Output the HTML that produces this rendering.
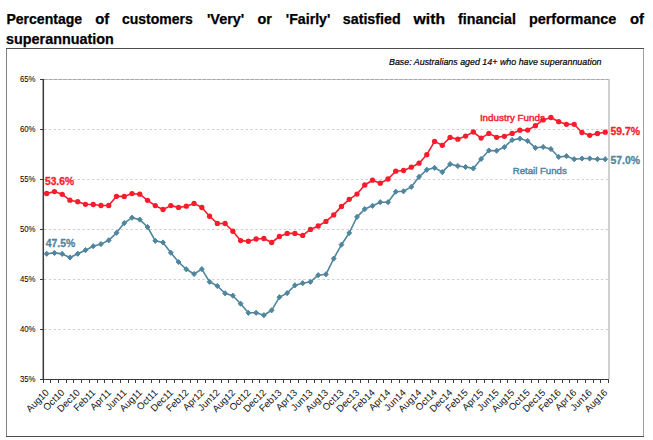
<!DOCTYPE html><html><head><meta charset="utf-8"><style>html,body{margin:0;padding:0;background:#fff;}svg{display:block;}text{font-family:"Liberation Sans",sans-serif;}</style></head><body>
<svg width="653" height="440" viewBox="0 0 653 440">
<rect width="653" height="440" fill="#fff"/>
<g font-weight="bold" font-size="14.4" fill="#000" stroke="#000" stroke-width="0.25">
<text x="6.40" y="24" textLength="75.8" lengthAdjust="spacingAndGlyphs">Percentage</text>
<text x="95.30" y="24" textLength="14" lengthAdjust="spacingAndGlyphs">of</text>
<text x="122.00" y="24" textLength="70.8" lengthAdjust="spacingAndGlyphs">customers</text>
<text x="206.90" y="24" textLength="37.4" lengthAdjust="spacingAndGlyphs">'Very'</text>
<text x="257.40" y="24" textLength="14.4" lengthAdjust="spacingAndGlyphs">or</text>
<text x="285.80" y="24" textLength="44.599999999999994" lengthAdjust="spacingAndGlyphs">'Fairly'</text>
<text x="342.80" y="24" textLength="57.8" lengthAdjust="spacingAndGlyphs">satisfied</text>
<text x="413.60" y="24" textLength="31.5" lengthAdjust="spacingAndGlyphs">with</text>
<text x="458.10" y="24" textLength="57.8" lengthAdjust="spacingAndGlyphs">financial</text>
<text x="528.90" y="24" textLength="87.39999999999999" lengthAdjust="spacingAndGlyphs">performance</text>
<text x="629.90" y="24" textLength="14" lengthAdjust="spacingAndGlyphs">of</text>
<text x="6" y="43.5" textLength="107.8" lengthAdjust="spacingAndGlyphs">superannuation</text>
</g>
<line x1="6.5" y1="48" x2="6.5" y2="437" stroke="#808080"/>
<line x1="643.5" y1="48" x2="643.5" y2="437" stroke="#a0a0a0"/>
<line x1="6" y1="48.5" x2="644" y2="48.5" stroke="#4d4d4d"/>
<line x1="6" y1="436.5" x2="644" y2="436.5" stroke="#4d4d4d"/>
<text x="389" y="64.5" font-size="9.5" font-style="italic" fill="#000" stroke="#000" stroke-width="0.2" textLength="212.5" lengthAdjust="spacingAndGlyphs">Base: Australians aged 14+ who have superannuation</text>
<line x1="44" y1="129.5" x2="608" y2="129.5" stroke="#cfcfcf" stroke-width="1" stroke-dasharray="2.4 2.4"/>
<line x1="44" y1="179.5" x2="608" y2="179.5" stroke="#cfcfcf" stroke-width="1" stroke-dasharray="2.4 2.4"/>
<line x1="44" y1="229.5" x2="608" y2="229.5" stroke="#cfcfcf" stroke-width="1" stroke-dasharray="2.4 2.4"/>
<line x1="44" y1="279.5" x2="608" y2="279.5" stroke="#cfcfcf" stroke-width="1" stroke-dasharray="2.4 2.4"/>
<line x1="44" y1="329.5" x2="608" y2="329.5" stroke="#cfcfcf" stroke-width="1" stroke-dasharray="2.4 2.4"/>
<line x1="43" y1="79.5" x2="609" y2="79.5" stroke="#d4d4d4" stroke-width="1"/>
<line x1="44" y1="79.5" x2="609" y2="79.5" stroke="#a8a8a8" stroke-width="1" stroke-dasharray="3.6 1.2"/>
<line x1="609" y1="79" x2="609" y2="379" stroke="#bdbdbd" stroke-width="1.4"/>
<g font-size="8.8" fill="#000" stroke="#000" stroke-width="0.05" text-anchor="end">
<text x="35.5" y="82.1" textLength="15.6" lengthAdjust="spacingAndGlyphs">65%</text>
<text x="35.5" y="132.1" textLength="15.6" lengthAdjust="spacingAndGlyphs">60%</text>
<text x="35.5" y="182.1" textLength="15.6" lengthAdjust="spacingAndGlyphs">55%</text>
<text x="35.5" y="232.1" textLength="15.6" lengthAdjust="spacingAndGlyphs">50%</text>
<text x="35.5" y="282.1" textLength="15.6" lengthAdjust="spacingAndGlyphs">45%</text>
<text x="35.5" y="332.1" textLength="15.6" lengthAdjust="spacingAndGlyphs">40%</text>
<text x="35.5" y="382.1" textLength="15.6" lengthAdjust="spacingAndGlyphs">35%</text>
</g>
<g stroke="#3a3a3a" stroke-width="1">
<line x1="40" y1="79.5" x2="43" y2="79.5"/>
<line x1="40" y1="129.5" x2="43" y2="129.5"/>
<line x1="40" y1="179.5" x2="43" y2="179.5"/>
<line x1="40" y1="229.5" x2="43" y2="229.5"/>
<line x1="40" y1="279.5" x2="43" y2="279.5"/>
<line x1="40" y1="329.5" x2="43" y2="329.5"/>
<line x1="40" y1="379.5" x2="43" y2="379.5"/>
<line x1="43.50" y1="379" x2="43.50" y2="383"/>
<line x1="50.50" y1="379" x2="50.50" y2="383"/>
<line x1="58.50" y1="379" x2="58.50" y2="383"/>
<line x1="66.50" y1="379" x2="66.50" y2="383"/>
<line x1="73.50" y1="379" x2="73.50" y2="383"/>
<line x1="81.50" y1="379" x2="81.50" y2="383"/>
<line x1="89.50" y1="379" x2="89.50" y2="383"/>
<line x1="97.50" y1="379" x2="97.50" y2="383"/>
<line x1="104.50" y1="379" x2="104.50" y2="383"/>
<line x1="112.50" y1="379" x2="112.50" y2="383"/>
<line x1="120.50" y1="379" x2="120.50" y2="383"/>
<line x1="128.50" y1="379" x2="128.50" y2="383"/>
<line x1="135.50" y1="379" x2="135.50" y2="383"/>
<line x1="143.50" y1="379" x2="143.50" y2="383"/>
<line x1="151.50" y1="379" x2="151.50" y2="383"/>
<line x1="159.50" y1="379" x2="159.50" y2="383"/>
<line x1="166.50" y1="379" x2="166.50" y2="383"/>
<line x1="174.50" y1="379" x2="174.50" y2="383"/>
<line x1="182.50" y1="379" x2="182.50" y2="383"/>
<line x1="190.50" y1="379" x2="190.50" y2="383"/>
<line x1="197.50" y1="379" x2="197.50" y2="383"/>
<line x1="205.50" y1="379" x2="205.50" y2="383"/>
<line x1="213.50" y1="379" x2="213.50" y2="383"/>
<line x1="221.50" y1="379" x2="221.50" y2="383"/>
<line x1="228.50" y1="379" x2="228.50" y2="383"/>
<line x1="236.50" y1="379" x2="236.50" y2="383"/>
<line x1="244.50" y1="379" x2="244.50" y2="383"/>
<line x1="252.50" y1="379" x2="252.50" y2="383"/>
<line x1="259.50" y1="379" x2="259.50" y2="383"/>
<line x1="267.50" y1="379" x2="267.50" y2="383"/>
<line x1="275.50" y1="379" x2="275.50" y2="383"/>
<line x1="283.50" y1="379" x2="283.50" y2="383"/>
<line x1="290.50" y1="379" x2="290.50" y2="383"/>
<line x1="298.50" y1="379" x2="298.50" y2="383"/>
<line x1="306.50" y1="379" x2="306.50" y2="383"/>
<line x1="314.50" y1="379" x2="314.50" y2="383"/>
<line x1="321.50" y1="379" x2="321.50" y2="383"/>
<line x1="329.50" y1="379" x2="329.50" y2="383"/>
<line x1="337.50" y1="379" x2="337.50" y2="383"/>
<line x1="345.50" y1="379" x2="345.50" y2="383"/>
<line x1="352.50" y1="379" x2="352.50" y2="383"/>
<line x1="360.50" y1="379" x2="360.50" y2="383"/>
<line x1="368.50" y1="379" x2="368.50" y2="383"/>
<line x1="376.50" y1="379" x2="376.50" y2="383"/>
<line x1="383.50" y1="379" x2="383.50" y2="383"/>
<line x1="391.50" y1="379" x2="391.50" y2="383"/>
<line x1="399.50" y1="379" x2="399.50" y2="383"/>
<line x1="407.50" y1="379" x2="407.50" y2="383"/>
<line x1="414.50" y1="379" x2="414.50" y2="383"/>
<line x1="422.50" y1="379" x2="422.50" y2="383"/>
<line x1="430.50" y1="379" x2="430.50" y2="383"/>
<line x1="438.50" y1="379" x2="438.50" y2="383"/>
<line x1="445.50" y1="379" x2="445.50" y2="383"/>
<line x1="453.50" y1="379" x2="453.50" y2="383"/>
<line x1="461.50" y1="379" x2="461.50" y2="383"/>
<line x1="469.50" y1="379" x2="469.50" y2="383"/>
<line x1="476.50" y1="379" x2="476.50" y2="383"/>
<line x1="484.50" y1="379" x2="484.50" y2="383"/>
<line x1="492.50" y1="379" x2="492.50" y2="383"/>
<line x1="500.50" y1="379" x2="500.50" y2="383"/>
<line x1="507.50" y1="379" x2="507.50" y2="383"/>
<line x1="515.50" y1="379" x2="515.50" y2="383"/>
<line x1="523.50" y1="379" x2="523.50" y2="383"/>
<line x1="531.50" y1="379" x2="531.50" y2="383"/>
<line x1="538.50" y1="379" x2="538.50" y2="383"/>
<line x1="546.50" y1="379" x2="546.50" y2="383"/>
<line x1="554.50" y1="379" x2="554.50" y2="383"/>
<line x1="562.50" y1="379" x2="562.50" y2="383"/>
<line x1="569.50" y1="379" x2="569.50" y2="383"/>
<line x1="577.50" y1="379" x2="577.50" y2="383"/>
<line x1="585.50" y1="379" x2="585.50" y2="383"/>
<line x1="593.50" y1="379" x2="593.50" y2="383"/>
<line x1="600.50" y1="379" x2="600.50" y2="383"/>
<line x1="608.50" y1="379" x2="608.50" y2="383"/>
</g>
<line x1="43.3" y1="79" x2="43.3" y2="380" stroke="#3a3a3a" stroke-width="1.5"/>
<line x1="42.5" y1="379.5" x2="609" y2="379.5" stroke="#3a3a3a" stroke-width="1.2"/>
<g font-size="9.6" fill="#111" text-anchor="end">
<text transform="translate(47.48,391) rotate(-45)" x="0" y="3">Aug10</text>
<text transform="translate(62.99,391) rotate(-45)" x="0" y="3">Oct10</text>
<text transform="translate(78.51,391) rotate(-45)" x="0" y="3">Dec10</text>
<text transform="translate(94.02,391) rotate(-45)" x="0" y="3">Feb11</text>
<text transform="translate(109.54,391) rotate(-45)" x="0" y="3">Apr11</text>
<text transform="translate(125.05,391) rotate(-45)" x="0" y="3">Jun11</text>
<text transform="translate(140.57,391) rotate(-45)" x="0" y="3">Aug11</text>
<text transform="translate(156.08,391) rotate(-45)" x="0" y="3">Oct11</text>
<text transform="translate(171.60,391) rotate(-45)" x="0" y="3">Dec11</text>
<text transform="translate(187.11,391) rotate(-45)" x="0" y="3">Feb12</text>
<text transform="translate(202.63,391) rotate(-45)" x="0" y="3">Apr12</text>
<text transform="translate(218.14,391) rotate(-45)" x="0" y="3">Jun12</text>
<text transform="translate(233.66,391) rotate(-45)" x="0" y="3">Aug12</text>
<text transform="translate(249.17,391) rotate(-45)" x="0" y="3">Oct12</text>
<text transform="translate(264.69,391) rotate(-45)" x="0" y="3">Dec12</text>
<text transform="translate(280.20,391) rotate(-45)" x="0" y="3">Feb13</text>
<text transform="translate(295.72,391) rotate(-45)" x="0" y="3">Apr13</text>
<text transform="translate(311.23,391) rotate(-45)" x="0" y="3">Jun13</text>
<text transform="translate(326.75,391) rotate(-45)" x="0" y="3">Aug13</text>
<text transform="translate(342.27,391) rotate(-45)" x="0" y="3">Oct13</text>
<text transform="translate(357.78,391) rotate(-45)" x="0" y="3">Dec13</text>
<text transform="translate(373.30,391) rotate(-45)" x="0" y="3">Feb14</text>
<text transform="translate(388.81,391) rotate(-45)" x="0" y="3">Apr14</text>
<text transform="translate(404.33,391) rotate(-45)" x="0" y="3">Jun14</text>
<text transform="translate(419.84,391) rotate(-45)" x="0" y="3">Aug14</text>
<text transform="translate(435.36,391) rotate(-45)" x="0" y="3">Oct14</text>
<text transform="translate(450.87,391) rotate(-45)" x="0" y="3">Dec14</text>
<text transform="translate(466.39,391) rotate(-45)" x="0" y="3">Feb15</text>
<text transform="translate(481.90,391) rotate(-45)" x="0" y="3">Apr15</text>
<text transform="translate(497.42,391) rotate(-45)" x="0" y="3">Jun15</text>
<text transform="translate(512.93,391) rotate(-45)" x="0" y="3">Aug15</text>
<text transform="translate(528.45,391) rotate(-45)" x="0" y="3">Oct15</text>
<text transform="translate(543.96,391) rotate(-45)" x="0" y="3">Dec15</text>
<text transform="translate(559.48,391) rotate(-45)" x="0" y="3">Feb16</text>
<text transform="translate(574.99,391) rotate(-45)" x="0" y="3">Apr16</text>
<text transform="translate(590.51,391) rotate(-45)" x="0" y="3">Jun16</text>
<text transform="translate(606.02,391) rotate(-45)" x="0" y="3">Aug16</text>
</g>
<path d="M46.68,193.50 L54.44,191.60 L62.19,194.30 L69.95,200.20 L77.71,201.70 L85.47,204.30 L93.22,204.50 L100.98,205.50 L108.74,205.50 L116.50,196.30 L124.25,196.40 L132.01,193.60 L139.77,194.20 L147.53,200.30 L155.28,205.60 L163.04,209.50 L170.80,205.60 L178.56,207.40 L186.31,206.20 L194.07,203.40 L201.83,207.50 L209.59,216.25 L217.34,223.40 L225.10,223.50 L232.86,231.25 L240.62,240.60 L248.37,241.25 L256.13,239.00 L263.89,238.50 L271.65,242.50 L279.40,236.50 L287.16,233.40 L294.92,233.40 L302.68,235.40 L310.43,229.40 L318.19,226.00 L325.95,221.40 L333.71,214.90 L341.47,206.40 L349.22,199.30 L356.98,194.10 L364.74,185.00 L372.50,180.20 L380.25,183.20 L388.01,179.00 L395.77,171.20 L403.53,170.50 L411.28,167.20 L419.04,163.20 L426.80,154.70 L434.56,141.40 L442.31,145.30 L450.07,137.40 L457.83,139.20 L465.59,136.10 L473.34,132.00 L481.10,138.10 L488.86,133.40 L496.62,137.30 L504.37,136.30 L512.13,133.40 L519.89,130.20 L527.65,130.10 L535.40,125.70 L543.16,119.90 L550.92,117.50 L558.68,121.70 L566.43,124.30 L574.19,124.30 L581.95,132.50 L589.71,135.30 L597.46,133.50 L605.22,132.20" fill="none" stroke="#f71c2c" stroke-width="1.6" stroke-linejoin="round"/>
<path d="M46.68,253.75 L54.44,252.90 L62.19,253.90 L69.95,257.50 L77.71,253.75 L85.47,250.20 L93.22,246.20 L100.98,244.10 L108.74,240.30 L116.50,232.80 L124.25,223.10 L132.01,217.70 L139.77,219.60 L147.53,227.00 L155.28,240.80 L163.04,242.50 L170.80,252.70 L178.56,262.00 L186.31,269.30 L194.07,274.00 L201.83,269.10 L209.59,281.80 L217.34,286.00 L225.10,293.30 L232.86,295.70 L240.62,303.70 L248.37,312.80 L256.13,312.80 L263.89,315.20 L271.65,310.30 L279.40,297.20 L287.16,293.10 L294.92,285.30 L302.68,283.20 L310.43,281.80 L318.19,275.20 L325.95,274.30 L333.71,258.60 L341.47,244.70 L349.22,233.00 L356.98,216.90 L364.74,209.10 L372.50,205.80 L380.25,202.20 L388.01,202.20 L395.77,191.70 L403.53,191.30 L411.28,186.90 L419.04,176.80 L426.80,169.80 L434.56,167.80 L442.31,172.10 L450.07,164.10 L457.83,166.00 L465.59,167.00 L473.34,168.40 L481.10,159.00 L488.86,150.50 L496.62,150.70 L504.37,147.10 L512.13,140.00 L519.89,138.60 L527.65,140.90 L535.40,147.80 L543.16,147.00 L550.92,149.00 L558.68,157.00 L566.43,156.10 L574.19,159.20 L581.95,158.50 L589.71,158.50 L597.46,159.20 L605.22,159.20" fill="none" stroke="#4f869e" stroke-width="1.6" stroke-linejoin="round"/>
<g fill="#f71c2c">
<circle cx="46.68" cy="193.50" r="2.65"/>
<circle cx="54.44" cy="191.60" r="2.65"/>
<circle cx="62.19" cy="194.30" r="2.65"/>
<circle cx="69.95" cy="200.20" r="2.65"/>
<circle cx="77.71" cy="201.70" r="2.65"/>
<circle cx="85.47" cy="204.30" r="2.65"/>
<circle cx="93.22" cy="204.50" r="2.65"/>
<circle cx="100.98" cy="205.50" r="2.65"/>
<circle cx="108.74" cy="205.50" r="2.65"/>
<circle cx="116.50" cy="196.30" r="2.65"/>
<circle cx="124.25" cy="196.40" r="2.65"/>
<circle cx="132.01" cy="193.60" r="2.65"/>
<circle cx="139.77" cy="194.20" r="2.65"/>
<circle cx="147.53" cy="200.30" r="2.65"/>
<circle cx="155.28" cy="205.60" r="2.65"/>
<circle cx="163.04" cy="209.50" r="2.65"/>
<circle cx="170.80" cy="205.60" r="2.65"/>
<circle cx="178.56" cy="207.40" r="2.65"/>
<circle cx="186.31" cy="206.20" r="2.65"/>
<circle cx="194.07" cy="203.40" r="2.65"/>
<circle cx="201.83" cy="207.50" r="2.65"/>
<circle cx="209.59" cy="216.25" r="2.65"/>
<circle cx="217.34" cy="223.40" r="2.65"/>
<circle cx="225.10" cy="223.50" r="2.65"/>
<circle cx="232.86" cy="231.25" r="2.65"/>
<circle cx="240.62" cy="240.60" r="2.65"/>
<circle cx="248.37" cy="241.25" r="2.65"/>
<circle cx="256.13" cy="239.00" r="2.65"/>
<circle cx="263.89" cy="238.50" r="2.65"/>
<circle cx="271.65" cy="242.50" r="2.65"/>
<circle cx="279.40" cy="236.50" r="2.65"/>
<circle cx="287.16" cy="233.40" r="2.65"/>
<circle cx="294.92" cy="233.40" r="2.65"/>
<circle cx="302.68" cy="235.40" r="2.65"/>
<circle cx="310.43" cy="229.40" r="2.65"/>
<circle cx="318.19" cy="226.00" r="2.65"/>
<circle cx="325.95" cy="221.40" r="2.65"/>
<circle cx="333.71" cy="214.90" r="2.65"/>
<circle cx="341.47" cy="206.40" r="2.65"/>
<circle cx="349.22" cy="199.30" r="2.65"/>
<circle cx="356.98" cy="194.10" r="2.65"/>
<circle cx="364.74" cy="185.00" r="2.65"/>
<circle cx="372.50" cy="180.20" r="2.65"/>
<circle cx="380.25" cy="183.20" r="2.65"/>
<circle cx="388.01" cy="179.00" r="2.65"/>
<circle cx="395.77" cy="171.20" r="2.65"/>
<circle cx="403.53" cy="170.50" r="2.65"/>
<circle cx="411.28" cy="167.20" r="2.65"/>
<circle cx="419.04" cy="163.20" r="2.65"/>
<circle cx="426.80" cy="154.70" r="2.65"/>
<circle cx="434.56" cy="141.40" r="2.65"/>
<circle cx="442.31" cy="145.30" r="2.65"/>
<circle cx="450.07" cy="137.40" r="2.65"/>
<circle cx="457.83" cy="139.20" r="2.65"/>
<circle cx="465.59" cy="136.10" r="2.65"/>
<circle cx="473.34" cy="132.00" r="2.65"/>
<circle cx="481.10" cy="138.10" r="2.65"/>
<circle cx="488.86" cy="133.40" r="2.65"/>
<circle cx="496.62" cy="137.30" r="2.65"/>
<circle cx="504.37" cy="136.30" r="2.65"/>
<circle cx="512.13" cy="133.40" r="2.65"/>
<circle cx="519.89" cy="130.20" r="2.65"/>
<circle cx="527.65" cy="130.10" r="2.65"/>
<circle cx="535.40" cy="125.70" r="2.65"/>
<circle cx="543.16" cy="119.90" r="2.65"/>
<circle cx="550.92" cy="117.50" r="2.65"/>
<circle cx="558.68" cy="121.70" r="2.65"/>
<circle cx="566.43" cy="124.30" r="2.65"/>
<circle cx="574.19" cy="124.30" r="2.65"/>
<circle cx="581.95" cy="132.50" r="2.65"/>
<circle cx="589.71" cy="135.30" r="2.65"/>
<circle cx="597.46" cy="133.50" r="2.65"/>
<circle cx="605.22" cy="132.20" r="2.65"/>
</g>
<g fill="#4f869e" stroke="#4f869e" stroke-width="1" stroke-linejoin="miter">
<path d="M46.68,251.15 L49.08,253.75 L46.68,256.35 L44.28,253.75Z"/>
<path d="M54.44,250.30 L56.84,252.90 L54.44,255.50 L52.04,252.90Z"/>
<path d="M62.19,251.30 L64.59,253.90 L62.19,256.50 L59.79,253.90Z"/>
<path d="M69.95,254.90 L72.35,257.50 L69.95,260.10 L67.55,257.50Z"/>
<path d="M77.71,251.15 L80.11,253.75 L77.71,256.35 L75.31,253.75Z"/>
<path d="M85.47,247.60 L87.87,250.20 L85.47,252.80 L83.07,250.20Z"/>
<path d="M93.22,243.60 L95.62,246.20 L93.22,248.80 L90.82,246.20Z"/>
<path d="M100.98,241.50 L103.38,244.10 L100.98,246.70 L98.58,244.10Z"/>
<path d="M108.74,237.70 L111.14,240.30 L108.74,242.90 L106.34,240.30Z"/>
<path d="M116.50,230.20 L118.90,232.80 L116.50,235.40 L114.10,232.80Z"/>
<path d="M124.25,220.50 L126.65,223.10 L124.25,225.70 L121.85,223.10Z"/>
<path d="M132.01,215.10 L134.41,217.70 L132.01,220.30 L129.61,217.70Z"/>
<path d="M139.77,217.00 L142.17,219.60 L139.77,222.20 L137.37,219.60Z"/>
<path d="M147.53,224.40 L149.93,227.00 L147.53,229.60 L145.13,227.00Z"/>
<path d="M155.28,238.20 L157.68,240.80 L155.28,243.40 L152.88,240.80Z"/>
<path d="M163.04,239.90 L165.44,242.50 L163.04,245.10 L160.64,242.50Z"/>
<path d="M170.80,250.10 L173.20,252.70 L170.80,255.30 L168.40,252.70Z"/>
<path d="M178.56,259.40 L180.96,262.00 L178.56,264.60 L176.16,262.00Z"/>
<path d="M186.31,266.70 L188.71,269.30 L186.31,271.90 L183.91,269.30Z"/>
<path d="M194.07,271.40 L196.47,274.00 L194.07,276.60 L191.67,274.00Z"/>
<path d="M201.83,266.50 L204.23,269.10 L201.83,271.70 L199.43,269.10Z"/>
<path d="M209.59,279.20 L211.99,281.80 L209.59,284.40 L207.19,281.80Z"/>
<path d="M217.34,283.40 L219.74,286.00 L217.34,288.60 L214.94,286.00Z"/>
<path d="M225.10,290.70 L227.50,293.30 L225.10,295.90 L222.70,293.30Z"/>
<path d="M232.86,293.10 L235.26,295.70 L232.86,298.30 L230.46,295.70Z"/>
<path d="M240.62,301.10 L243.02,303.70 L240.62,306.30 L238.22,303.70Z"/>
<path d="M248.37,310.20 L250.77,312.80 L248.37,315.40 L245.97,312.80Z"/>
<path d="M256.13,310.20 L258.53,312.80 L256.13,315.40 L253.73,312.80Z"/>
<path d="M263.89,312.60 L266.29,315.20 L263.89,317.80 L261.49,315.20Z"/>
<path d="M271.65,307.70 L274.05,310.30 L271.65,312.90 L269.25,310.30Z"/>
<path d="M279.40,294.60 L281.80,297.20 L279.40,299.80 L277.00,297.20Z"/>
<path d="M287.16,290.50 L289.56,293.10 L287.16,295.70 L284.76,293.10Z"/>
<path d="M294.92,282.70 L297.32,285.30 L294.92,287.90 L292.52,285.30Z"/>
<path d="M302.68,280.60 L305.08,283.20 L302.68,285.80 L300.28,283.20Z"/>
<path d="M310.43,279.20 L312.83,281.80 L310.43,284.40 L308.03,281.80Z"/>
<path d="M318.19,272.60 L320.59,275.20 L318.19,277.80 L315.79,275.20Z"/>
<path d="M325.95,271.70 L328.35,274.30 L325.95,276.90 L323.55,274.30Z"/>
<path d="M333.71,256.00 L336.11,258.60 L333.71,261.20 L331.31,258.60Z"/>
<path d="M341.47,242.10 L343.87,244.70 L341.47,247.30 L339.07,244.70Z"/>
<path d="M349.22,230.40 L351.62,233.00 L349.22,235.60 L346.82,233.00Z"/>
<path d="M356.98,214.30 L359.38,216.90 L356.98,219.50 L354.58,216.90Z"/>
<path d="M364.74,206.50 L367.14,209.10 L364.74,211.70 L362.34,209.10Z"/>
<path d="M372.50,203.20 L374.90,205.80 L372.50,208.40 L370.10,205.80Z"/>
<path d="M380.25,199.60 L382.65,202.20 L380.25,204.80 L377.85,202.20Z"/>
<path d="M388.01,199.60 L390.41,202.20 L388.01,204.80 L385.61,202.20Z"/>
<path d="M395.77,189.10 L398.17,191.70 L395.77,194.30 L393.37,191.70Z"/>
<path d="M403.53,188.70 L405.93,191.30 L403.53,193.90 L401.13,191.30Z"/>
<path d="M411.28,184.30 L413.68,186.90 L411.28,189.50 L408.88,186.90Z"/>
<path d="M419.04,174.20 L421.44,176.80 L419.04,179.40 L416.64,176.80Z"/>
<path d="M426.80,167.20 L429.20,169.80 L426.80,172.40 L424.40,169.80Z"/>
<path d="M434.56,165.20 L436.96,167.80 L434.56,170.40 L432.16,167.80Z"/>
<path d="M442.31,169.50 L444.71,172.10 L442.31,174.70 L439.91,172.10Z"/>
<path d="M450.07,161.50 L452.47,164.10 L450.07,166.70 L447.67,164.10Z"/>
<path d="M457.83,163.40 L460.23,166.00 L457.83,168.60 L455.43,166.00Z"/>
<path d="M465.59,164.40 L467.99,167.00 L465.59,169.60 L463.19,167.00Z"/>
<path d="M473.34,165.80 L475.74,168.40 L473.34,171.00 L470.94,168.40Z"/>
<path d="M481.10,156.40 L483.50,159.00 L481.10,161.60 L478.70,159.00Z"/>
<path d="M488.86,147.90 L491.26,150.50 L488.86,153.10 L486.46,150.50Z"/>
<path d="M496.62,148.10 L499.02,150.70 L496.62,153.30 L494.22,150.70Z"/>
<path d="M504.37,144.50 L506.77,147.10 L504.37,149.70 L501.97,147.10Z"/>
<path d="M512.13,137.40 L514.53,140.00 L512.13,142.60 L509.73,140.00Z"/>
<path d="M519.89,136.00 L522.29,138.60 L519.89,141.20 L517.49,138.60Z"/>
<path d="M527.65,138.30 L530.05,140.90 L527.65,143.50 L525.25,140.90Z"/>
<path d="M535.40,145.20 L537.80,147.80 L535.40,150.40 L533.00,147.80Z"/>
<path d="M543.16,144.40 L545.56,147.00 L543.16,149.60 L540.76,147.00Z"/>
<path d="M550.92,146.40 L553.32,149.00 L550.92,151.60 L548.52,149.00Z"/>
<path d="M558.68,154.40 L561.08,157.00 L558.68,159.60 L556.28,157.00Z"/>
<path d="M566.43,153.50 L568.83,156.10 L566.43,158.70 L564.03,156.10Z"/>
<path d="M574.19,156.60 L576.59,159.20 L574.19,161.80 L571.79,159.20Z"/>
<path d="M581.95,155.90 L584.35,158.50 L581.95,161.10 L579.55,158.50Z"/>
<path d="M589.71,155.90 L592.11,158.50 L589.71,161.10 L587.31,158.50Z"/>
<path d="M597.46,156.60 L599.86,159.20 L597.46,161.80 L595.06,159.20Z"/>
<path d="M605.22,156.60 L607.62,159.20 L605.22,161.80 L602.82,159.20Z"/>
</g>
<g font-weight="bold" font-size="10.5" stroke-width="0.3">
<text x="45" y="185" fill="#f71c2c" stroke="#f71c2c" textLength="29" lengthAdjust="spacingAndGlyphs">53.6%</text>
<text x="45.8" y="247" fill="#4f869e" stroke="#4f869e" textLength="29.5" lengthAdjust="spacingAndGlyphs">47.5%</text>
<text x="610.5" y="135" fill="#f71c2c" stroke="#f71c2c" textLength="29.5" lengthAdjust="spacingAndGlyphs">59.7%</text>
<text x="610.5" y="164" fill="#4f869e" stroke="#4f869e" textLength="29.5" lengthAdjust="spacingAndGlyphs">57.0%</text>
</g>
<text x="479.9" y="121" font-size="9.8" fill="#f71c2c" stroke="#f71c2c" stroke-width="0.45" textLength="65" lengthAdjust="spacingAndGlyphs">Industry Funds</text>
<text x="512.7" y="174" font-size="9.8" fill="#4f869e" stroke="#4f869e" stroke-width="0.45" textLength="54" lengthAdjust="spacingAndGlyphs">Retail Funds</text>
</svg></body></html>
